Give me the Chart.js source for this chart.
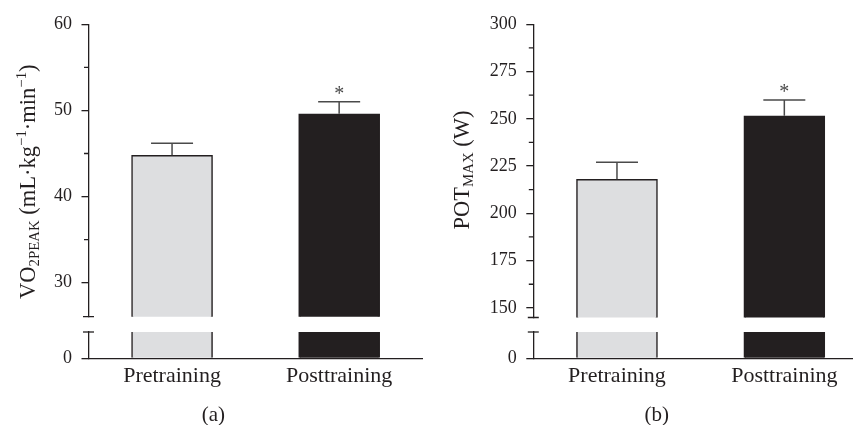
<!DOCTYPE html>
<html>
<head>
<meta charset="utf-8">
<script src="https://cdn.jsdelivr.net/npm/chart.js@4.4.1/dist/chart.umd.min.js"></script>
<style>
  html, body { margin: 0; padding: 0; background: #fff; }
  #wrap { position: relative; width: 853px; height: 425px; overflow: hidden; }
  canvas { position: absolute; top: 0; }
</style>
</head>
<body>
<div id="wrap">
  <canvas id="aTop" width="430" height="425" style="left:0"></canvas>
  <canvas id="aBot" width="430" height="425" style="left:0"></canvas>
  <canvas id="bTop" width="438" height="425" style="left:430px"></canvas>
  <canvas id="bBot" width="438" height="425" style="left:430px"></canvas>
</div>
<script>
// ---- data ----
const categories = ['Pretraining', 'Posttraining'];
const significant = [false, true];

const vo2Mean = [44.8, 49.6];
const vo2Err = [1.4, 1.4];
const vo2Ticks = [30, 40, 50, 60];
const vo2Minor = [35, 45, 55];

const potMean = [218, 251.6];
const potErr = [9, 8.4];
const potTicks = [150, 175, 200, 225, 250, 275, 300];
const potMinor = [162.5, 187.5, 212.5, 237.5, 262.5, 287.5];

const lowerTicks = [0];

const vo2Title = [
  { t: 'VO', s: 1, dy: 0 },
  { t: '2PEAK', s: 0.66, dy: 0.2 },
  { t: ' (mL·kg', s: 1, dy: 0 },
  { t: '−1', s: 0.66, dy: -0.38 },
  { t: '·min', s: 1, dy: 0 },
  { t: '−1', s: 0.66, dy: -0.38 },
  { t: ')', s: 1, dy: 0 }
];
const potTitle = [
  { t: 'POT', s: 1, dy: 0 },
  { t: 'MAX', s: 0.66, dy: 0.2 },
  { t: ' (W)', s: 1, dy: 0 }
];

const INK = '#231f20';
const ERR = '#4a4a4a';
const FONT = '"Liberation Serif", "Times New Roman", serif';
const barFill = ['#dddee0', '#231f20'];
const H = 425;

Chart.defaults.font.family = FONT;
Chart.defaults.color = INK;

// ---- panel layout ----
const panels = {
  a: {
    mean: vo2Mean, err: vo2Err, ticks: vo2Ticks, minor: vo2Minor,
    min: 26.05, max: 60, title: vo2Title, titleX: 34.5, titleY: 181.7,
    axisW: 88.5, padRight: 7.3, areaTop: 24.3, breakTop: 316.7,
    breakBottom: 332, zeroY: 358.3, tag: '(a)', tagX: 213.3
  },
  b: {
    mean: potMean, err: potErr, ticks: potTicks, minor: potMinor,
    min: 144.9, max: 300, title: potTitle, titleX: 38.5, titleY: 170,
    axisW: 103.3, padRight: 0, areaTop: 24.3, breakTop: 317.5,
    breakBottom: 332, zeroY: 358.3, tag: '(b)', tagX: 226.7
  }
};

function drawTitle(ctx, segs, size, cx, cy) {
  ctx.save();
  ctx.translate(cx, cy);
  ctx.rotate(-Math.PI / 2);
  let total = 0;
  const widths = segs.map(s => {
    ctx.font = (size * s.s) + 'px ' + FONT;
    const w = ctx.measureText(s.t).width;
    total += w;
    return w;
  });
  let x = -total / 2;
  ctx.fillStyle = INK;
  ctx.textAlign = 'left';
  ctx.textBaseline = 'alphabetic';
  segs.forEach((s, i) => {
    ctx.font = (size * s.s) + 'px ' + FONT;
    ctx.fillText(s.t, x, s.dy * size);
    x += widths[i];
  });
  ctx.restore();
}

function decoPlugin(p, part) {
  return {
    id: 'deco',
    afterDatasetsDraw(chart) {
      if (part !== 'top') return;
      const ctx = chart.ctx;
      const y = chart.scales.y;
      const meta = chart.getDatasetMeta(0);
      ctx.save();
      ctx.strokeStyle = ERR;
      ctx.lineWidth = 1.5;
      meta.data.forEach((bar, i) => {
        const top = y.getPixelForValue(p.mean[i] + p.err[i]);
        ctx.beginPath();
        ctx.moveTo(bar.x, bar.y);
        ctx.lineTo(bar.x, top);
        ctx.moveTo(bar.x - 21, top);
        ctx.lineTo(bar.x + 21, top);
        ctx.stroke();
        if (significant[i]) {
          ctx.fillStyle = ERR;
          ctx.font = '20px ' + FONT;
          ctx.textAlign = 'center';
          ctx.textBaseline = 'alphabetic';
          ctx.fillText('*', bar.x, top - 2);
        }
      });
      ctx.restore();
    },
    afterDraw(chart) {
      const ctx = chart.ctx;
      const area = chart.chartArea;
      const y = chart.scales.y;
      ctx.save();
      ctx.strokeStyle = INK;
      ctx.lineWidth = 1.3;
      ctx.beginPath();
      if (part === 'top') {
        // minor ticks
        p.minor.forEach(v => {
          const py = y.getPixelForValue(v);
          ctx.moveTo(area.left - 4.5, py);
          ctx.lineTo(area.left, py);
        });
        // break cap
        ctx.moveTo(area.left - 5.5, area.bottom);
        ctx.lineTo(area.left + 5.5, area.bottom);
      } else {
        ctx.moveTo(area.left - 5.5, area.top);
        ctx.lineTo(area.left + 5.5, area.top);
      }
      ctx.stroke();
      if (part === 'top') {
        drawTitle(ctx, p.title, 22.5, p.titleX, p.titleY);
      } else {
        ctx.fillStyle = INK;
        ctx.font = '21px ' + FONT;
        ctx.textAlign = 'center';
        ctx.textBaseline = 'alphabetic';
        ctx.fillText(p.tag, p.tagX, 421);
      }
      ctx.restore();
    }
  };
}

function makeChart(id, p, part) {
  const top = part === 'top';
  return new Chart(document.getElementById(id), {
    type: 'bar',
    data: {
      labels: categories,
      datasets: [{
        data: p.mean,
        backgroundColor: barFill,
        borderColor: INK,
        borderWidth: 1.5,
        barThickness: 81,
        clip: 0
      }]
    },
    options: {
      responsive: false,
      animation: false,
      layout: {
        padding: top
          ? { top: p.areaTop, bottom: H - p.breakTop, left: 0, right: p.padRight }
          : { top: p.breakBottom, bottom: 0, left: 0, right: p.padRight }
      },
      plugins: { legend: { display: false }, tooltip: { enabled: false } },
      scales: {
        x: {
          display: !top,
          grid: { display: false, drawTicks: false },
          border: { display: true, color: INK, width: 1.3 },
          ticks: { color: INK, font: { size: 22 }, padding: 5 },
          afterFit: s => { s.height = top ? 0 : H - p.zeroY; }
        },
        y: {
          min: top ? p.min : 0,
          max: top ? p.max : 3,
          afterBuildTicks: s => { s.ticks = (top ? p.ticks : lowerTicks).map(v => ({ value: v })); },
          afterFit: s => { s.width = p.axisW; },
          grid: { drawOnChartArea: false, color: INK, lineWidth: 1.3, tickLength: 7 },
          border: { color: INK, width: 1.3 },
          ticks: { color: INK, font: { size: 18 }, padding: 9.5 }
        }
      }
    },
    plugins: [decoPlugin(p, part)]
  });
}

makeChart('aTop', panels.a, 'top');
makeChart('aBot', panels.a, 'bottom');
makeChart('bTop', panels.b, 'top');
makeChart('bBot', panels.b, 'bottom');
</script>
</body>
</html>
